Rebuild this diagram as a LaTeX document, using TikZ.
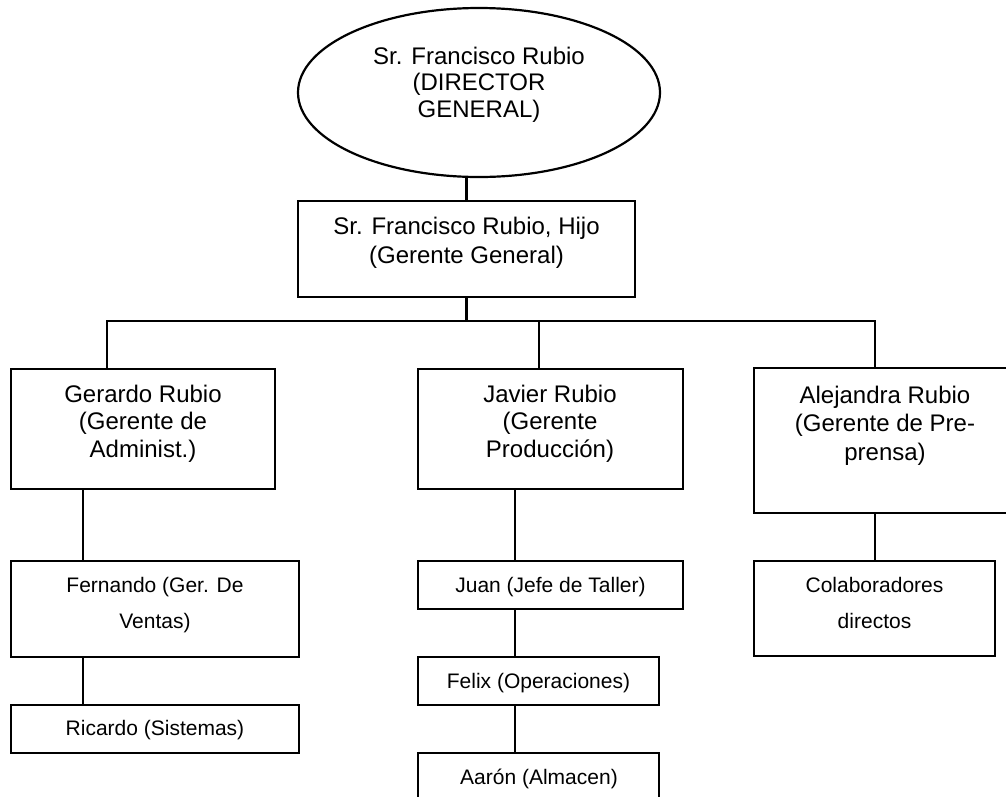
\documentclass[tikz,border=0pt]{standalone}
\usepackage{fontspec}
\setmainfont{Liberation Sans}
\usetikzlibrary{shapes.geometric,calc}

\begin{document}
\begin{tikzpicture}[x=1pt,y=-1pt,
  unit/.style={draw=black, line width=2.2pt, rectangle, inner sep=0pt, outer sep=0pt},
  boss/.style={draw=black, line width=2.2pt, ellipse, inner sep=0pt, outer sep=0pt},
  bigtxt/.style={font=\fontsize{24}{28}\selectfont, align=center, anchor=base, inner sep=0pt},
  smalltxt/.style={font=\fontsize{21}{36}\selectfont, align=center, anchor=base, inner sep=0pt},
  link/.style={draw=black, line width=2.2pt, line cap=rect}]

  % page frame
  \useasboundingbox (0,0) rectangle (1006,796);

  % director (multi-line labels are placed by the baseline of their last line)
  \node[boss, minimum width=362pt, minimum height=169pt] (dir) at (479,92.5) {};
  \node[bigtxt, font=\fontsize{24}{26.5}\selectfont] (dirT) at (479,117)
    {Sr. Francisco Rubio\\(DIRECTOR\\GENERAL)};

  % general manager
  \node[unit, minimum width=337pt, minimum height=96pt] (gg) at (466.5,249) {};
  \node[bigtxt, font=\fontsize{24}{29}\selectfont] (ggT) at (466.5,263)
    {Sr. Francisco Rubio, Hijo\\(Gerente General)};

  % area managers
  \node[unit, minimum width=264pt, minimum height=120pt] (ger) at (143,429) {};
  \node[bigtxt, font=\fontsize{24}{27.5}\selectfont] (gerT) at (143,457)
    {Gerardo Rubio\\(Gerente de\\Administ.)};

  \node[unit, minimum width=265pt, minimum height=120pt] (jav) at (550.5,429) {};
  \node[bigtxt, font=\fontsize{24}{27.5}\selectfont] (javT) at (550,457)
    {Javier Rubio\\(Gerente\\Producción)};

  \node[unit, minimum width=262pt, minimum height=145pt] (ale) at (885,440.5) {};
  \node[bigtxt, font=\fontsize{24}{28.5}\selectfont] (aleT) at (885,460)
    {Alejandra Rubio\\(Gerente de Pre-\\prensa)};

  % staff
  \node[unit, minimum width=288pt, minimum height=96pt] (fer) at (155,609) {};
  \node[smalltxt] (ferT) at (155,628) {Fernando (Ger. De\\Ventas)};

  \node[unit, minimum width=288pt, minimum height=48pt] (ric) at (155,729) {};
  \node[smalltxt] (ricT) at (155,735) {Ricardo (Sistemas)};

  \node[unit, minimum width=265pt, minimum height=48pt] (juan) at (550.5,585) {};
  \node[smalltxt] (juanT) at (550.5,592) {Juan (Jefe de Taller)};

  \node[unit, minimum width=241pt, minimum height=48pt] (fel) at (538.5,681) {};
  \node[smalltxt] (felT) at (538.5,688) {Felix (Operaciones)};

  \node[unit, minimum width=241pt, minimum height=48pt] (aar) at (538.5,777) {};
  \node[smalltxt] (aarT) at (539,784) {Aarón (Almacen)};

  \node[unit, minimum width=241pt, minimum height=95pt] (col) at (874.5,608.5) {};
  \node[smalltxt] (colT) at (874.5,628) {Colaboradores\\directos};

  % bus bar under the general manager
  \coordinate (busL) at (107,321);
  \coordinate (busM) at (539,321);
  \coordinate (busR) at (875,321);

  \draw[link] (gg.north) -- (gg.north |- dir.south);
  \draw[link] (gg.south) -- (gg.south |- busL);
  \draw[link] (busL |- ger.north) -- (busL) -- (busR) -- (busR |- ale.north);
  \draw[link] (busM) -- (busM |- jav.north);

  % reporting lines
  \draw[link] ($(ger.south west)+(72,0)$) -- ($(fer.north west)+(72,0)$);
  \draw[link] ($(fer.south west)+(72,0)$) -- ($(ric.north west)+(72,0)$);
  \draw[link] ($(jav.south west)+(97,0)$) -- ($(juan.north west)+(97,0)$);
  \draw[link] ($(juan.south west)+(97,0)$) -- ($(fel.north west)+(97,0)$);
  \draw[link] ($(fel.south west)+(97,0)$) -- ($(aar.north west)+(97,0)$);
  \draw[link] ($(ale.south west)+(121,0)$) -- ($(col.north west)+(121,0)$);
\end{tikzpicture}
\end{document}
